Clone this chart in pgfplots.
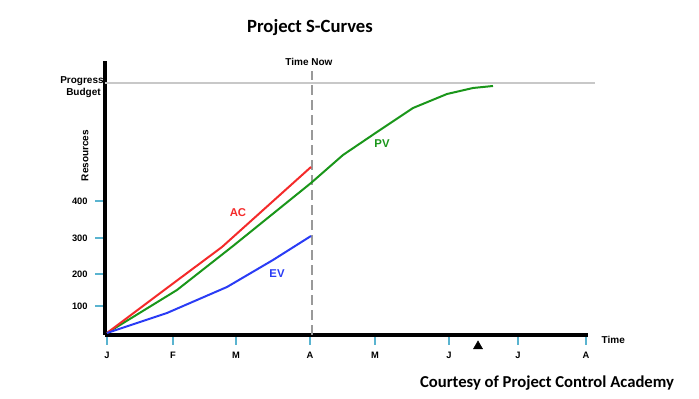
\documentclass[border=0pt]{standalone}
\usepackage{pgfplots}
\pgfplotsset{compat=1.18}
\usepackage{fontspec}
\setmainfont{Liberation Sans}
\newfontfamily\carlito{Carlito}
\definecolor{tickblue}{HTML}{5AB4D0}
\definecolor{acred}{HTML}{F42A2A}
\definecolor{pvgreen}{HTML}{1A961A}
\definecolor{evblue}{HTML}{2A3CF5}
\definecolor{lightgrey}{HTML}{C8C8C8}
\definecolor{dashgrey}{HTML}{999999}
\begin{document}
\begin{tikzpicture}
\begin{axis}[
  scale only axis,
  width=362.25pt, height=205.5pt,
  xmin=105, xmax=588, ymin=64, ymax=338,
  axis x line*=bottom, axis y line*=left,
  axis line style={line width=3pt, black},
  clip=false,
  tick align=outside,
  major tick length=7.5pt,
  tick style={color=tickblue, line width=1pt},
  xtick={107,173,236,310,375,449,518,586},
  xticklabels={J,F,M,A,M,J,J,A},
  ytick={93,125,161,198},
  yticklabels={100,200,300,400},
  tick label style={font=\fontsize{7}{8}\selectfont\bfseries},
  xticklabel style={yshift=-2pt},
  yticklabel style={xshift=-2pt},
  minor tick num=0,
]
% reference lines
\addplot[color=lightgrey, line width=1.5pt] coordinates {(105,316) (595,316)};
\addplot[color=dashgrey, line width=1.5pt, dash pattern=on 7.5pt off 3.75pt] coordinates {(312,64) (312,328)};
% PV
\addplot[color=pvgreen, line width=1.5pt] coordinates {
(107,66) (177,109) (233,153) (311,216) (343,244) (377,267) (413,291) (447,305) (473,311) (493,313)};
% AC
\addplot[color=acred, line width=1.5pt] coordinates {
(107,66) (167,111) (222,152) (311,232)};
% EV
\addplot[color=evblue, line width=1.5pt] coordinates {
(107,66) (167,86) (227,112) (273,139) (311,163)};
% triangle marker
\addplot[only marks, mark=triangle*, mark size=3.9pt, black] coordinates {(478,52.8)};
% texts
\node[font=\carlito\bfseries\fontsize{14}{16}\selectfont] at (axis cs:310,371) {Project S-Curves};
\node[font=\carlito\bfseries\fontsize{12.5}{14}\selectfont] at (axis cs:547,16) {Courtesy of Project Control Academy};
\node[font=\fontsize{7.5}{9}\selectfont\bfseries] at (axis cs:309,337.5) {Time Now};
\node[font=\fontsize{7.5}{9}\selectfont\bfseries, anchor=base] at (axis cs:82,315) {Progress};
\node[font=\fontsize{7.5}{9}\selectfont\bfseries, anchor=base] at (axis cs:83.5,303) {Budget};
\node[font=\fontsize{7.5}{9}\selectfont\bfseries, rotate=90] at (axis cs:85,243.5) {Resources};
\node[font=\fontsize{7.5}{9}\selectfont\bfseries, anchor=west] at (axis cs:597,59) {Time};
\node[font=\fontsize{8.5}{10}\selectfont\bfseries, text=acred] at (axis cs:238,186) {AC};
\node[font=\fontsize{8.5}{10}\selectfont\bfseries, text=evblue] at (axis cs:277,125) {EV};
\node[font=\fontsize{8.5}{10}\selectfont\bfseries, text=pvgreen] at (axis cs:382,255) {PV};
\path (axis cs:0,0) rectangle (axis cs:699,399);
\end{axis}
\end{tikzpicture}
\end{document}
